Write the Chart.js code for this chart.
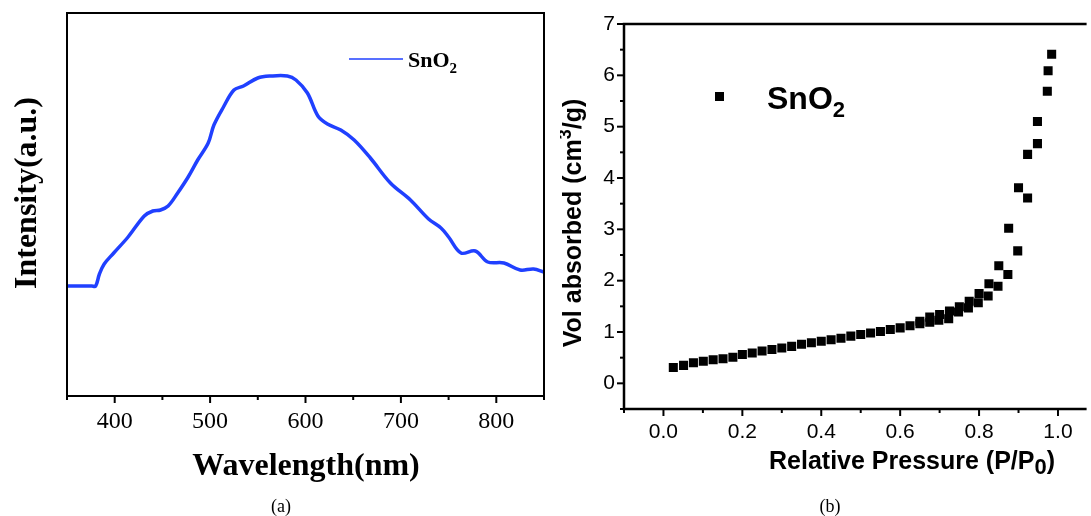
<!DOCTYPE html>
<html>
<head>
<meta charset="utf-8">
<script src="https://cdn.jsdelivr.net/npm/chart.js@4.4.1/dist/chart.umd.min.js"></script>
<style>
  html, body { margin: 0; padding: 0; background: #fff; }
  #wrap { position: relative; width: 1091px; height: 516px; overflow: hidden; }
  #chartPL { position: absolute; left: 0; top: 0; }
  #chartBET { position: absolute; left: 560px; top: 0; }
</style>
</head>
<body>
<div id="wrap">
  <canvas id="chartPL" width="560" height="516"></canvas>
  <canvas id="chartBET" width="531" height="516"></canvas>
</div>
<script>
// (a) PL spectrum
const wavelength = [350, 365, 376, 380, 384, 389, 399, 414, 431, 440, 448, 456, 466, 477, 487, 498, 504, 514, 525, 535, 550, 564,
                    581, 590, 602, 613, 623, 637, 651, 668, 689, 710, 729, 742, 750, 763, 778, 791, 808, 825, 839, 850];
const intensity = [110, 110, 110, 110, 122, 132, 143, 159, 180, 185, 186, 190, 203, 219, 236, 253, 271, 289, 306, 310, 318, 320,
                   320, 316, 303, 280, 272, 266, 256, 238, 213, 196, 177, 168, 159, 143, 145, 134, 133, 126, 127, 124];
const wlTicks = [350, 400, 450, 500, 550, 600, 650, 700, 750, 800, 850];

// (b) N2 isotherm
const adsP = [0.025, 0.051, 0.076, 0.101, 0.126, 0.151, 0.176, 0.200, 0.225, 0.250, 0.275, 0.300, 0.325, 0.350, 0.375,
              0.400, 0.425, 0.450, 0.475, 0.500, 0.525, 0.550, 0.575, 0.600, 0.625, 0.650, 0.675, 0.698, 0.723, 0.748,
              0.773, 0.798, 0.823, 0.848, 0.873, 0.898, 0.923, 0.948, 0.973];
const adsV = [0.31, 0.35, 0.40, 0.43, 0.46, 0.48, 0.51, 0.56, 0.59, 0.63, 0.66, 0.69, 0.72, 0.76, 0.79,
              0.82, 0.85, 0.88, 0.92, 0.95, 0.98, 1.01, 1.05, 1.08, 1.12, 1.16, 1.19, 1.23, 1.26, 1.39,
              1.47, 1.57, 1.70, 1.89, 2.12, 2.58, 3.61, 4.67, 5.69];
const desP = [0.984, 0.975, 0.948, 0.923, 0.900, 0.875, 0.850, 0.825, 0.800, 0.775, 0.750, 0.725, 0.700, 0.675, 0.650];
const desV = [6.41, 6.09, 5.10, 4.46, 3.81, 3.02, 2.29, 1.94, 1.75, 1.60, 1.49, 1.41, 1.34, 1.29, 1.21];
const pTicks = [-0.1, 0.0, 0.1, 0.2, 0.3, 0.4, 0.5, 0.6, 0.7, 0.8, 0.9, 1.0];
const vTicks = [-0.5, 0, 0.5, 1, 1.5, 2, 2.5, 3, 3.5, 4, 4.5, 5, 5.5, 6, 6.5, 7];

const SERIF = '"Liberation Serif", "Times New Roman", serif';
const SANS = '"Liberation Sans", Arial, sans-serif';

// little helper for text with a sub/superscript part
function richText(ctx, parts, x, y) {
  let cx = x;
  parts.forEach(p => {
    ctx.font = p.font;
    ctx.fillText(p.t, cx, y + (p.dy || 0));
    cx += ctx.measureText(p.t).width;
  });
  return cx;
}
function richWidth(ctx, parts) {
  let w = 0;
  parts.forEach(p => { ctx.font = p.font; w += ctx.measureText(p.t).width; });
  return w;
}

function drawTicks(ctx, scale, area, isMajor, majLen, minLen, lw) {
  ctx.save();
  ctx.strokeStyle = '#000';
  ctx.lineWidth = lw;
  scale.ticks.forEach(t => {
    const len = isMajor(t.value) ? majLen : minLen;
    const p = scale.getPixelForValue(t.value);
    ctx.beginPath();
    if (scale.isHorizontal()) {
      ctx.moveTo(p, area.bottom);
      ctx.lineTo(p, area.bottom + len);
    } else {
      ctx.moveTo(area.left, p);
      ctx.lineTo(area.left - len, p);
    }
    ctx.stroke();
  });
  ctx.restore();
}

const plDecor = {
  id: 'plDecor',
  afterDraw(chart) {
    const ctx = chart.ctx, a = chart.chartArea;
    ctx.save();
    ctx.strokeStyle = '#000';
    ctx.lineWidth = 2;
    ctx.strokeRect(a.left, a.top, a.right - a.left, a.bottom - a.top);
    ctx.restore();
    drawTicks(ctx, chart.scales.x, a, v => v % 100 === 0, 7, 4, 2);

    ctx.save();
    ctx.fillStyle = '#000';
    ctx.textBaseline = 'alphabetic';
    ctx.font = 'bold 32px ' + SERIF;
    ctx.textAlign = 'center';
    ctx.fillText('Wavelength(nm)', 306, 475);
    ctx.save();
    ctx.translate(36, 193);
    ctx.rotate(-Math.PI / 2);
    ctx.fillText('Intensity(a.u.)', 0, 0);
    ctx.restore();
    ctx.font = '18px ' + SERIF;
    ctx.fillText('(a)', 281, 512);

    // legend
    ctx.strokeStyle = '#2040ff';
    ctx.lineWidth = 1.5;
    ctx.beginPath();
    ctx.moveTo(349, 59);
    ctx.lineTo(403, 59);
    ctx.stroke();
    ctx.textAlign = 'left';
    richText(ctx, [
      { t: 'SnO', font: 'bold 22px ' + SERIF },
      { t: '2', font: 'bold 15px ' + SERIF, dy: 6 }
    ], 408, 67);
    ctx.restore();
  }
};

const betDecor = {
  id: 'betDecor',
  afterDraw(chart) {
    const ctx = chart.ctx, a = chart.chartArea;
    ctx.save();
    ctx.strokeStyle = '#000';
    ctx.lineWidth = 2.5;
    ctx.beginPath();
    ctx.moveTo(a.right + 2, a.top);
    ctx.lineTo(a.left, a.top);
    ctx.lineTo(a.left, a.bottom);
    ctx.lineTo(a.right + 2, a.bottom);
    ctx.stroke();
    ctx.restore();
    drawTicks(ctx, chart.scales.x, a, v => Math.round(v * 10) % 2 === 0, 7, 4, 2);
    drawTicks(ctx, chart.scales.y, a, v => Math.round(v * 2) % 2 === 0, 7, 4, 2);

    ctx.save();
    ctx.fillStyle = '#000';
    ctx.textBaseline = 'alphabetic';
    const xt = [
      { t: 'Relative Pressure (P/P', font: 'bold 25px ' + SANS },
      { t: '0', font: 'bold 22px ' + SANS, dy: 5 },
      { t: ')', font: 'bold 25px ' + SANS }
    ];
    richText(ctx, xt, 912 - 560 - richWidth(ctx, xt) / 2, 469);

    const yt = [
      { t: 'Vol absorbed (cm', font: 'bold 25px ' + SANS },
      { t: '3', font: 'bold 18px ' + SANS, dy: -10 },
      { t: '/g)', font: 'bold 25px ' + SANS }
    ];
    ctx.save();
    ctx.translate(581 - 560, 223);
    ctx.rotate(-Math.PI / 2);
    richText(ctx, yt, -richWidth(ctx, yt) / 2, 0);
    ctx.restore();

    ctx.font = '18px ' + SERIF;
    ctx.textAlign = 'center';
    ctx.fillText('(b)', 830 - 560, 512);

    // legend
    ctx.fillRect(715 - 560, 92, 9, 9);
    ctx.textAlign = 'left';
    richText(ctx, [
      { t: 'SnO', font: 'bold 32px ' + SANS },
      { t: '2', font: 'bold 22px ' + SANS, dy: 8 }
    ], 767 - 560, 109);
    ctx.restore();
  }
};

new Chart(document.getElementById('chartPL'), {
  type: 'line',
  data: {
    datasets: [{
      label: 'SnO2',
      data: wavelength.map((w, i) => ({ x: w, y: intensity[i] })),
      borderColor: '#2040ff',
      borderWidth: 3.5,
      pointRadius: 0,
      tension: 0.35,
      fill: false
    }]
  },
  options: {
    responsive: false,
    animation: false,
    devicePixelRatio: 1,
    layout: { padding: { top: 13, right: 16, left: 0, bottom: 0 } },
    plugins: { legend: { display: false }, tooltip: { enabled: false } },
    scales: {
      x: {
        type: 'linear', min: 350, max: 850,
        afterBuildTicks: s => { s.ticks = wlTicks.map(v => ({ value: v })); },
        afterFit: s => { s.height = 120; },
        grid: { display: false, drawTicks: false },
        border: { display: false },
        ticks: {
          padding: 11, color: '#000', maxRotation: 0, autoSkip: false,
          font: { family: SERIF, size: 24 },
          callback: v => (v % 100 === 0 && v >= 400 && v <= 800) ? String(v) : ''
        }
      },
      y: {
        min: 0, max: 383,
        afterFit: s => { s.width = 67; },
        grid: { display: false, drawTicks: false },
        border: { display: false },
        ticks: { display: false }
      }
    }
  },
  plugins: [plDecor]
});

new Chart(document.getElementById('chartBET'), {
  type: 'scatter',
  data: {
    datasets: [{
      label: 'SnO2',
      data: adsP.map((p, i) => ({ x: p, y: adsV[i] }))
        .concat(desP.map((p, i) => ({ x: p, y: desV[i] }))),
      pointStyle: 'rect',
      pointRadius: 6.4,
      backgroundColor: '#000',
      borderWidth: 0
    }]
  },
  options: {
    responsive: false,
    animation: false,
    devicePixelRatio: 1,
    layout: { padding: { top: 24, right: 0, left: 0, bottom: 0 } },
    plugins: { legend: { display: false }, tooltip: { enabled: false } },
    scales: {
      x: {
        type: 'linear', min: -0.1, max: 1.0675,
        afterBuildTicks: s => { s.ticks = pTicks.map(v => ({ value: v })); },
        afterFit: s => { s.height = 107; },
        grid: { display: false, drawTicks: false },
        border: { display: false },
        ticks: {
          padding: 11, color: '#000', maxRotation: 0, autoSkip: false,
          font: { family: SANS, size: 21 },
          callback: v => (v >= 0 && Math.round(v * 10) % 2 === 0) ? v.toFixed(1) : ''
        }
      },
      y: {
        type: 'linear', min: -0.5, max: 7,
        afterBuildTicks: s => { s.ticks = vTicks.map(v => ({ value: v })); },
        afterFit: s => { s.width = 64; },
        grid: { display: false, drawTicks: false },
        border: { display: false },
        ticks: {
          padding: 9, color: '#000', autoSkip: false,
          font: { family: SANS, size: 21 },
          callback: v => (v >= 0 && Number.isInteger(v)) ? String(v) : ''
        }
      }
    }
  },
  plugins: [betDecor]
});
</script>
</body>
</html>
